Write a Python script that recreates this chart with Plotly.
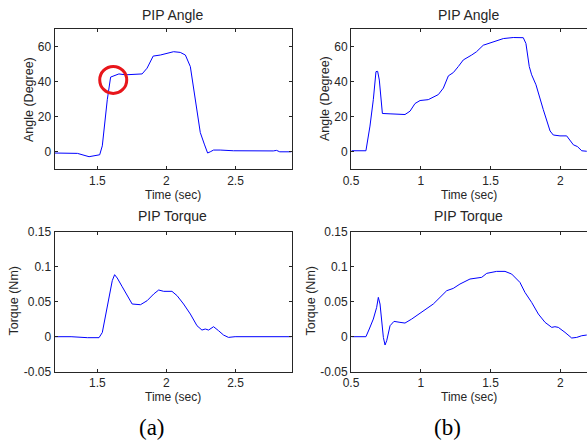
import plotly.graph_objects as go

# ---- data ----
a_angle_t = [1.19, 1.356, 1.44, 1.517, 1.536, 1.572, 1.596, 1.625, 1.656, 1.704, 1.824, 1.86, 1.904,
             1.956, 2.005, 2.052, 2.10, 2.137, 2.173, 2.209, 2.245, 2.274, 2.298, 2.317, 2.341, 2.389,
             2.485, 2.773, 2.797, 2.82, 2.905]
a_angle_v = [-0.7, -0.9, -2.8, -1.7, 3.4, 29.8, 42.7, 43.4, 44.5, 44.0, 44.5, 47.8, 54.7,
             55.3, 56.2, 57.2, 56.8, 55.3, 48.7, 29.8, 11.0, 4.4, -0.7, 0.0, 1.0, 1.0,
             0.6, 0.5, 0.8, 0.0, 0.0]

b_angle_t = [0.505, 0.607, 0.636, 0.66, 0.679, 0.691, 0.703, 0.72, 0.725, 0.78, 0.887, 0.923, 0.959,
             0.995, 1.054, 1.126, 1.162, 1.198, 1.234, 1.269, 1.305, 1.365, 1.40, 1.448, 1.52, 1.592,
             1.663, 1.735, 1.754, 1.778, 1.795, 1.826, 1.878, 1.927, 1.95, 1.998, 2.046, 2.094, 2.123,
             2.154, 2.19]
b_angle_v = [0.6, 0.6, 14.7, 29.8, 45.8, 46.0, 41.0, 21.9, 21.9, 21.7, 21.3, 23.2, 27.6,
             29.3, 29.8, 32.7, 36.4, 43.4, 45.3, 48.7, 52.5, 55.3, 57.2, 60.9, 62.8, 64.7,
             65.3, 65.2, 61.9, 48.7, 44.0, 38.3, 24.2, 11.9, 9.6, 9.1, 9.1, 4.0, 3.0,
             0.6, 0.3]

a_torque_t = [1.19, 1.31, 1.428, 1.512, 1.536, 1.567, 1.596, 1.608, 1.625, 1.644, 1.68, 1.716, 1.752,
              1.812, 1.86, 1.908, 1.944, 1.98, 2.04, 2.077, 2.124, 2.173, 2.221, 2.257, 2.281, 2.305,
              2.341, 2.377, 2.413, 2.449, 2.497, 2.905]
a_torque_v = [0.0, 0.0, -0.0014, -0.0014, 0.006, 0.037, 0.070, 0.080, 0.0886, 0.0838, 0.0714, 0.0586, 0.0467,
              0.0457, 0.0514, 0.061, 0.0667, 0.0648, 0.0648, 0.0586, 0.0467, 0.0324, 0.0157, 0.0095, 0.011, 0.0095,
              0.0143, 0.0086, 0.0024, -0.001, 0.0, 0.0]

b_torque_t = [0.505, 0.607, 0.631, 0.66, 0.684, 0.696, 0.708, 0.72, 0.732, 0.744, 0.756, 0.78, 0.808,
              0.851, 0.887, 0.935, 1.007, 1.09, 1.138, 1.186, 1.233, 1.281, 1.353, 1.437, 1.473, 1.544,
              1.604, 1.652, 1.711, 1.747, 1.795, 1.843, 1.891, 1.939, 1.962, 1.986, 2.034, 2.082, 2.118,
              2.154, 2.19]
b_torque_v = [0.0, 0.0, 0.011, 0.0252, 0.0419, 0.0562, 0.0467, 0.0229, -0.001, -0.0119, -0.0057, 0.0157, 0.0219,
              0.0205, 0.0195, 0.0252, 0.0348, 0.0467, 0.0562, 0.0657, 0.069, 0.0752, 0.0824, 0.0848, 0.0905, 0.0933,
              0.0933, 0.0895, 0.0776, 0.0633, 0.049, 0.0324, 0.0205, 0.0133, 0.0143, 0.0133, 0.0062, -0.0019, -0.001,
              0.0014, 0.0024]

angle_ticks = [0, 20, 40, 60]
torque_ticks = [-0.05, 0, 0.05, 0.1, 0.15]
torque_ticklabels = ["-0.05", "0", "0.05", "0.1", "0.15"]
a_xticks = [1.5, 2, 2.5]
a_xticklabels = ["1.5", "2", "2.5"]
b_xticks = [0.5, 1, 1.5, 2]
b_xticklabels = ["0.5", "1", "1.5", "2"]

W, H = 587, 441
FONT = "Arial, Liberation Sans, sans-serif"
TXT = "#262626"
LINE = "#0000ff"

def px_x(a, b):
    return [a / W, min(b / W, 1.0)]

def px_y(top, bot):
    return [1 - bot / H, 1 - top / H]

fig = go.Figure()
fig.add_trace(go.Scatter(x=a_angle_t, y=a_angle_v, mode="lines", line=dict(color=LINE, width=1), xaxis="x", yaxis="y"))
fig.add_trace(go.Scatter(x=b_angle_t, y=b_angle_v, mode="lines", line=dict(color=LINE, width=1), xaxis="x2", yaxis="y2"))
fig.add_trace(go.Scatter(x=a_torque_t, y=a_torque_v, mode="lines", line=dict(color=LINE, width=1), xaxis="x3", yaxis="y3"))
fig.add_trace(go.Scatter(x=b_torque_t, y=b_torque_v, mode="lines", line=dict(color=LINE, width=1), xaxis="x4", yaxis="y4"))

common = dict(showgrid=False, zeroline=False, showline=True, linecolor="#262626", linewidth=1,
              ticks="inside", ticklen=3, tickcolor="#262626", automargin=False,
              tickfont=dict(family=FONT, size=12, color=TXT))

LX = px_x(54.5, 291.5)
RX = px_x(351, 588)
TY = px_y(29.3, 169.3)
BY = px_y(231.7, 371.7)
LRANGE = [1.19, 2.905]
RRANGE = [0.5, 0.5 + (587 - 351) / 139.5]

fig.update_layout(
    width=W, height=H, margin=dict(l=0, r=0, t=0, b=0, pad=0), autosize=False,
    paper_bgcolor="white", plot_bgcolor="white", showlegend=False,
    xaxis=dict(domain=LX, anchor="y", range=LRANGE, tickvals=a_xticks, ticktext=a_xticklabels, mirror="allticks", **common),
    yaxis=dict(domain=TY, anchor="x", range=[-10, 70], tickvals=angle_ticks, mirror="allticks", **common),
    xaxis2=dict(domain=RX, anchor="y2", range=RRANGE, tickvals=b_xticks, ticktext=b_xticklabels, mirror="allticks", **common),
    yaxis2=dict(domain=TY, anchor="x2", range=[-10, 70], tickvals=angle_ticks, mirror=False, **common),
    xaxis3=dict(domain=LX, anchor="y3", range=LRANGE, tickvals=a_xticks, ticktext=a_xticklabels, mirror="allticks", **common),
    yaxis3=dict(domain=BY, anchor="x3", range=[-0.05, 0.15], tickvals=torque_ticks, ticktext=torque_ticklabels, mirror="allticks", **common),
    xaxis4=dict(domain=RX, anchor="y4", range=RRANGE, tickvals=b_xticks, ticktext=b_xticklabels, mirror="allticks", **common),
    yaxis4=dict(domain=BY, anchor="x4", range=[-0.05, 0.15], tickvals=torque_ticks, ticktext=torque_ticklabels, mirror=False, **common),
)

# red circle highlight on panel (a) angle (radius ~13.5 px)
cx, cy = 1.615, 41.1
rx = 13.5 / 138.2
ry = 13.5 / 1.75
fig.add_shape(type="circle", xref="x", yref="y", x0=cx - rx, x1=cx + rx, y0=cy - ry, y1=cy + ry,
              line=dict(color="#e8161b", width=3))

def text(x, y, s, size=12, angle=0, family=FONT, color=TXT):
    fig.add_annotation(x=x / W, y=1 - y / H, xref="paper", yref="paper", text=s, showarrow=False,
                       textangle=angle, font=dict(family=family, size=size, color=color),
                       xanchor="center", yanchor="middle")

text(172.7, 15, "PIP Angle", 14)
text(468, 15, "PIP Angle", 14)
text(172.7, 216, "PIP Torque", 14)
text(468, 216, "PIP Torque", 14)
text(173, 194.5, "Time (sec)", 12)
text(469, 194.5, "Time (sec)", 12)
text(173, 396.5, "Time (sec)", 12)
text(469, 396.5, "Time (sec)", 12)
text(29, 99, "Angle (Degree)", 12.5, -90)
text(325, 99, "Angle (Degree)", 12.5, -90)
text(13.5, 301, "Torque (Nm)", 12.5, -90)
text(310.5, 301, "Torque (Nm)", 12.5, -90)
text(152, 427, "(a)", 23, family="Liberation Serif, Times New Roman, serif", color="black")
text(447, 427, "(b)", 23, family="Liberation Serif, Times New Roman, serif", color="black")

fig.write_html("out.html", config={"displayModeBar": False},
               post_script="document.body.style.margin='0px';document.body.style.padding='0px';")
